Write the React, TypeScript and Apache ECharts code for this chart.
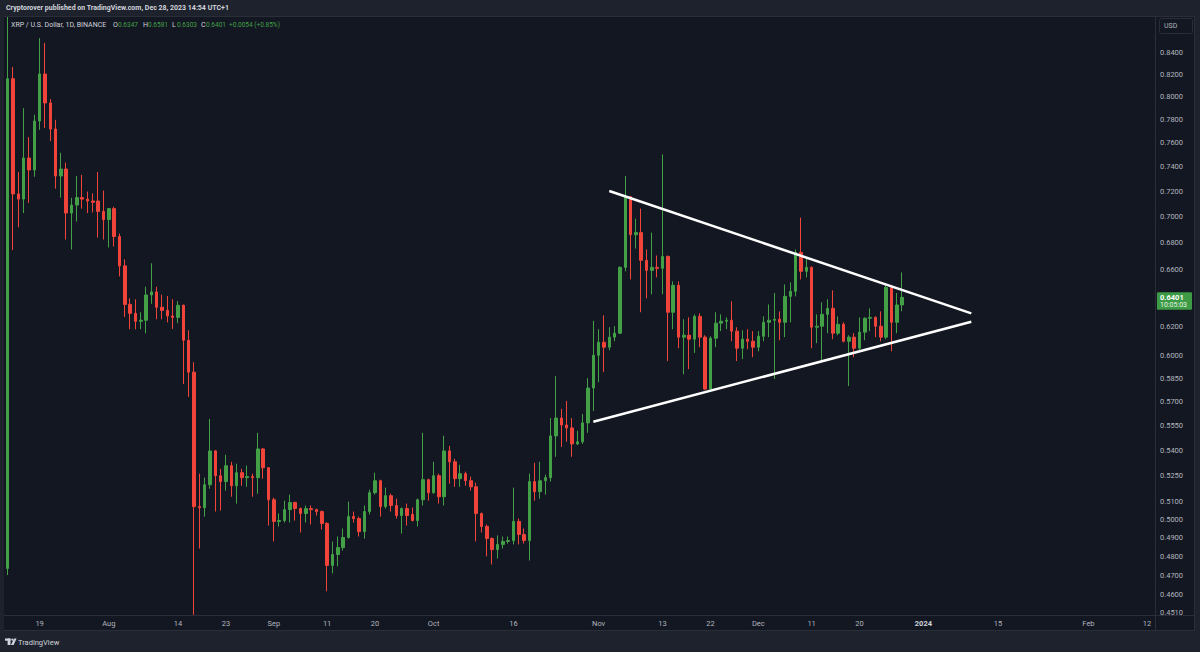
import React, { useEffect, useRef } from "react";
import * as echarts from "echarts";

// ---------- data ----------
const START_DATE = "2023-07-13";
const END_DATE = "2024-02-13";

// daily candles from START_DATE: [open, high, low, close] (extremes read as far as the pane shows them)
const OHLC: [number, number, number, number][] = [
  [0.4735, 0.8743, 0.47, 0.8163], [0.8163, 0.827, 0.6747, 0.7181], [0.7181, 0.7359, 0.692, 0.714],
  [0.714, 0.79, 0.703, 0.7474], [0.7474, 0.765, 0.711, 0.7375], [0.7375, 0.7842, 0.732, 0.7788],
  [0.7788, 0.854, 0.7712, 0.8206], [0.8206, 0.8494, 0.7728, 0.7946], [0.7946, 0.798, 0.7616, 0.7719],
  [0.7719, 0.7798, 0.7224, 0.7326], [0.7326, 0.7518, 0.7152, 0.7383], [0.7383, 0.7435, 0.6826, 0.703],
  [0.703, 0.715, 0.6751, 0.7093], [0.7093, 0.7326, 0.6964, 0.7152], [0.7152, 0.7335, 0.7065, 0.714],
  [0.714, 0.72, 0.703, 0.7125], [0.7125, 0.7185, 0.7035, 0.7115], [0.7125, 0.7359, 0.6841, 0.7043],
  [0.7043, 0.7208, 0.6826, 0.6979], [0.6979, 0.707, 0.6766, 0.7065], [0.7065, 0.708, 0.6774, 0.6849],
  [0.6849, 0.6872, 0.6552, 0.6629], [0.6629, 0.6677, 0.6263, 0.6351], [0.6351, 0.6394, 0.6178, 0.6288],
  [0.6288, 0.6387, 0.6178, 0.6233], [0.6233, 0.6296, 0.6178, 0.624], [0.624, 0.6477, 0.615, 0.6418],
  [0.6418, 0.6648, 0.6355, 0.644], [0.644, 0.6477, 0.6247, 0.6331], [0.6331, 0.642, 0.6247, 0.6309],
  [0.6309, 0.641, 0.6225, 0.627], [0.627, 0.6387, 0.618, 0.626], [0.626, 0.6375, 0.622, 0.6345],
  [0.6345, 0.635, 0.5812, 0.6103], [0.6103, 0.6171, 0.573, 0.589], [0.589, 0.5956, 0.4497, 0.5072],
  [0.5072, 0.5261, 0.4841, 0.5066], [0.5066, 0.5238, 0.5016, 0.5197], [0.5197, 0.5591, 0.5174, 0.5396],
  [0.5396, 0.5402, 0.5044, 0.5249], [0.5249, 0.529, 0.505, 0.5215], [0.5215, 0.5373, 0.5163, 0.5308],
  [0.5308, 0.5331, 0.5128, 0.5191], [0.5191, 0.532, 0.5089, 0.5267], [0.5267, 0.529, 0.5191, 0.5238],
  [0.5238, 0.5308, 0.5185, 0.5244], [0.5244, 0.5261, 0.5128, 0.5238], [0.5238, 0.5506, 0.5145, 0.5408],
  [0.5408, 0.5414, 0.5232, 0.5296], [0.5296, 0.53, 0.4966, 0.5111], [0.5111, 0.5123, 0.4879, 0.4989],
  [0.4989, 0.5033, 0.4961, 0.4994], [0.4994, 0.5106, 0.4983, 0.5055], [0.5055, 0.514, 0.4983, 0.5095],
  [0.5095, 0.51, 0.4994, 0.5061], [0.5061, 0.5067, 0.4928, 0.5033], [0.5033, 0.5078, 0.4983, 0.5061],
  [0.5061, 0.5078, 0.4972, 0.5055], [0.5055, 0.5061, 0.5022, 0.5044], [0.5044, 0.505, 0.4944, 0.4978],
  [0.4978, 0.4985, 0.4616, 0.4751], [0.4751, 0.4879, 0.4709, 0.4809], [0.4809, 0.4906, 0.4746, 0.4846],
  [0.4846, 0.495, 0.483, 0.4901], [0.4901, 0.51, 0.4895, 0.5016], [0.5016, 0.5044, 0.4983, 0.5005],
  [0.5005, 0.5016, 0.4906, 0.4933], [0.4933, 0.5078, 0.4895, 0.5044], [0.5044, 0.5168, 0.5028, 0.5151],
  [0.5151, 0.5267, 0.514, 0.522], [0.522, 0.5226, 0.5016, 0.5072], [0.5072, 0.518, 0.5061, 0.5134],
  [0.5134, 0.5145, 0.5044, 0.5078], [0.5078, 0.5117, 0.5005, 0.5022], [0.5022, 0.5067, 0.4922, 0.5061],
  [0.5061, 0.5089, 0.4966, 0.5022], [0.5028, 0.5067, 0.4989, 0.4994], [0.4994, 0.5117, 0.4961, 0.5111],
  [0.5111, 0.5506, 0.5078, 0.5226], [0.5226, 0.5232, 0.5106, 0.5151], [0.5151, 0.5331, 0.5145, 0.5249],
  [0.5249, 0.5261, 0.5089, 0.5128], [0.5128, 0.5488, 0.5078, 0.5396], [0.5396, 0.5426, 0.5203, 0.5331],
  [0.5331, 0.5349, 0.5185, 0.5232], [0.5232, 0.5314, 0.5185, 0.5261], [0.5261, 0.5273, 0.5191, 0.522],
  [0.522, 0.5244, 0.5163, 0.5185], [0.5185, 0.5209, 0.4879, 0.5033], [0.5033, 0.5039, 0.4928, 0.4961],
  [0.4961, 0.4972, 0.4799, 0.4895], [0.4895, 0.4901, 0.4756, 0.4835], [0.4835, 0.4912, 0.4788, 0.4863],
  [0.4863, 0.4906, 0.4841, 0.4879], [0.4879, 0.4906, 0.4868, 0.4884], [0.4884, 0.518, 0.4863, 0.4989],
  [0.4989, 0.5005, 0.4863, 0.4917], [0.4917, 0.495, 0.4868, 0.4884], [0.4884, 0.5261, 0.4777, 0.5215],
  [0.5215, 0.5325, 0.5106, 0.5157], [0.5157, 0.5331, 0.5117, 0.522], [0.522, 0.5255, 0.514, 0.5238],
  [0.5238, 0.5597, 0.5215, 0.5487], [0.5487, 0.5864, 0.5361, 0.5597], [0.5597, 0.5654, 0.542, 0.5554],
  [0.5554, 0.5704, 0.5451, 0.5536], [0.5536, 0.5597, 0.5361, 0.5438], [0.5438, 0.5518, 0.5432, 0.5451],
  [0.5451, 0.5622, 0.5438, 0.5567], [0.5567, 0.5851, 0.5506, 0.5787], [0.5787, 0.6236, 0.5641, 0.6002],
  [0.6002, 0.6178, 0.5825, 0.6089], [0.6089, 0.6274, 0.589, 0.6056], [0.6056, 0.6192, 0.6035, 0.6124],
  [0.6124, 0.6199, 0.6096, 0.6151], [0.6151, 0.6626, 0.6145, 0.6618], [0.6618, 0.7326, 0.6589, 0.7159],
  [0.7159, 0.7165, 0.653, 0.6863], [0.6863, 0.6986, 0.6758, 0.6879], [0.6879, 0.7065, 0.6296, 0.667],
  [0.667, 0.6751, 0.6394, 0.6596], [0.6596, 0.6879, 0.6423, 0.6618], [0.6618, 0.6706, 0.6545, 0.6611],
  [0.6611, 0.7504, 0.6423, 0.6699], [0.6699, 0.6706, 0.5963, 0.6296], [0.6296, 0.6516, 0.6178, 0.6487],
  [0.6487, 0.6516, 0.6049, 0.6124], [0.6124, 0.6247, 0.5877, 0.6137], [0.6137, 0.626, 0.591, 0.611],
  [0.611, 0.6281, 0.6017, 0.6267], [0.6267, 0.6288, 0.6056, 0.6124], [0.6124, 0.6137, 0.5774, 0.578],
  [0.578, 0.613, 0.5774, 0.6117], [0.6117, 0.6296, 0.6056, 0.622], [0.622, 0.6281, 0.6165, 0.6233],
  [0.6233, 0.626, 0.6178, 0.624], [0.624, 0.6373, 0.6096, 0.6165], [0.6165, 0.6192, 0.5963, 0.6049],
  [0.6049, 0.6171, 0.5976, 0.611], [0.611, 0.6178, 0.6042, 0.6096], [0.6096, 0.6165, 0.5989, 0.6056],
  [0.6056, 0.6165, 0.6028, 0.613], [0.613, 0.6267, 0.6096, 0.6226], [0.6226, 0.6351, 0.6124, 0.624],
  [0.624, 0.6432, 0.5845, 0.6247], [0.6247, 0.6302, 0.6103, 0.6226], [0.6226, 0.6494, 0.6124, 0.6408],
  [0.6408, 0.6509, 0.6226, 0.6444], [0.6444, 0.6751, 0.6408, 0.6729], [0.6729, 0.6994, 0.653, 0.6589],
  [0.6589, 0.6684, 0.6545, 0.6618], [0.6618, 0.6625, 0.6049, 0.6192], [0.6192, 0.6281, 0.6083, 0.6199],
  [0.6199, 0.6366, 0.5963, 0.6281], [0.6281, 0.6387, 0.6151, 0.6323], [0.6323, 0.6451, 0.611, 0.6151],
  [0.6151, 0.6267, 0.6137, 0.6212], [0.6212, 0.6226, 0.6089, 0.6096], [0.6096, 0.6137, 0.58, 0.6124],
  [0.6124, 0.6151, 0.5989, 0.6049], [0.6049, 0.626, 0.6028, 0.6158], [0.6158, 0.626, 0.6103, 0.6254],
  [0.6254, 0.6323, 0.6165, 0.626], [0.626, 0.6267, 0.6124, 0.6199], [0.6199, 0.6302, 0.6096, 0.6124],
  [0.6124, 0.6494, 0.611, 0.6472], [0.6472, 0.6487, 0.6028, 0.6226], [0.6226, 0.6432, 0.6151, 0.6347],
  [0.6347, 0.6581, 0.6303, 0.6401],
];

const PRICE_TICKS = [
  0.84, 0.82, 0.8, 0.78, 0.76, 0.74, 0.72, 0.7, 0.68, 0.66, 0.62, 0.6, 0.585, 0.57, 0.555,
  0.54, 0.525, 0.51, 0.5, 0.49, 0.48, 0.47, 0.46, 0.451,
];
const PRICE_MIN = 0.4496;
const PRICE_MAX = 0.8743;

const DATE_LABELS: Record<string, string> = {
  "2023-07-19": "19", "2023-08-01": "Aug", "2023-08-14": "14", "2023-08-23": "23",
  "2023-09-01": "Sep", "2023-09-11": "11", "2023-09-20": "20", "2023-10-01": "Oct",
  "2023-10-16": "16", "2023-11-01": "Nov", "2023-11-13": "13", "2023-11-22": "22",
  "2023-12-01": "Dec", "2023-12-11": "11", "2023-12-20": "20", "2024-01-01": "2024",
  "2024-01-15": "15", "2024-02-01": "Feb", "2024-02-12": "12",
};

// symmetrical triangle: [start, end] as [date, price]
const UPPER_LINE: [string, number][] = [["2023-11-03", 0.7205], ["2024-01-10", 0.6288]];
const LOWER_LINE: [string, number][] = [["2023-10-31", 0.5574], ["2024-01-10", 0.623]];

const LAST_PRICE = 0.6401;
const COUNTDOWN = "10:05:03";
const HEADER = "Cryptorover published on TradingView.com, Dec 28, 2023 14:54 UTC+1";
const SYMBOL_TITLE = "XRP / U.S. Dollar, 1D, BINANCE";
const LEGEND_VALUES: [string, string][] = [
  ["O", "0.6347"], ["H", "0.6581"], ["L", "0.6303"], ["C", "0.6401"],
];
const CHANGE_TEXT = "+0.0054 (+0.85%)";

// ---------- styles ----------
const UP = "#43a047";
const DOWN = "#f0443a";
const PANE = "#131722";
const FRAME = "#1e222d";
const BORDER = "#2a2e39";
const TEXT = "#b2b5be";
const FONT = "Roboto, 'Liberation Sans', sans-serif";

function buildDates(start: string, end: string): string[] {
  const out: string[] = [];
  const d = new Date(start + "T00:00:00Z");
  const e = new Date(end + "T00:00:00Z");
  while (d <= e) {
    out.push(d.toISOString().slice(0, 10));
    d.setUTCDate(d.getUTCDate() + 1);
  }
  return out;
}

export default function App() {
  const ref = useRef<HTMLDivElement>(null);

  useEffect(() => {
    if (!ref.current) return;
    const chart = echarts.init(ref.current, null, { renderer: "svg" });
    const dates = buildDates(START_DATE, END_DATE);
    const candles = OHLC.map(([o, h, l, c]) => [Math.log(o), Math.log(c), Math.log(l), Math.log(h)]);
    const toLine = (pts: [string, number][]) => [
      { coord: [pts[0][0], Math.log(pts[0][1])] },
      { coord: [pts[1][0], Math.log(pts[1][1])] },
    ];

    const legendEls: any[] = [
      { type: "text", x: 11, y: 25, style: { text: SYMBOL_TITLE, fill: "#d1d4dc", font: `7px ${FONT}`, textVerticalAlign: "middle" } },
    ];
    const legendX = [113, 143, 172, 201];
    LEGEND_VALUES.forEach(([k, v], i) => {
      legendEls.push({ type: "text", x: legendX[i], y: 25, style: { text: k, fill: "#d1d4dc", font: `7px ${FONT}`, textVerticalAlign: "middle" } });
      legendEls.push({ type: "text", x: legendX[i] + 5, y: 25, style: { text: v, fill: UP, font: `6.5px ${FONT}`, textVerticalAlign: "middle" } });
    });
    legendEls.push({ type: "text", x: 229, y: 25, style: { text: CHANGE_TEXT, fill: UP, font: `6.5px ${FONT}`, textVerticalAlign: "middle" } });

    chart.setOption({
      animation: false,
      backgroundColor: PANE,
      grid: { left: 5, right: 45, top: 17, bottom: 37, containLabel: false },
      xAxis: {
        type: "category",
        data: dates,
        boundaryGap: true,
        axisLine: { show: false },
        axisTick: { show: false },
        splitLine: { show: false },
        axisLabel: {
          interval: (_i: number, v: string) => v in DATE_LABELS,
          formatter: (v: string) => (DATE_LABELS[v] === "2024" ? "{b|2024}" : DATE_LABELS[v] || ""),
          color: TEXT,
          fontSize: 7.5,
          fontFamily: FONT,
          margin: 4,
          rich: { b: { color: "#d1d4dc", fontSize: 7.5, fontWeight: "bold", fontFamily: FONT } },
        },
      },
      yAxis: {
        type: "value",
        position: "right",
        min: Math.log(PRICE_MIN),
        max: Math.log(PRICE_MAX),
        axisLine: { show: false },
        axisTick: { show: false },
        splitLine: { show: false },
        axisLabel: {
          customValues: PRICE_TICKS.map((p) => Math.log(p)),
          formatter: (v: number) => Math.exp(v).toFixed(4),
          color: TEXT,
          fontSize: 7.5,
          fontFamily: FONT,
          margin: 5,
          showMinLabel: true,
          showMaxLabel: true,
        },
      },
      series: [
        {
          type: "candlestick",
          data: candles,
          barWidth: 3,
          clip: true,
          itemStyle: { color: UP, color0: DOWN, borderColor: UP, borderColor0: DOWN, borderWidth: 1 },
          markLine: {
            silent: true,
            symbol: ["none", "none"],
            label: { show: false },
            lineStyle: { color: "#ffffff", width: 2.5, type: "solid" },
            emphasis: { disabled: true },
            data: [toLine(UPPER_LINE), toLine(LOWER_LINE)],
          },
        },
      ],
    });

    const py = chart.convertToPixel({ yAxisIndex: 0 }, Math.log(LAST_PRICE)) as number;

    chart.setOption({
      graphic: [
        { type: "rect", silent: true, shape: { x: 0, y: 0, width: 1200, height: 16 }, style: { fill: FRAME } },
        { type: "rect", silent: true, shape: { x: 0, y: 631, width: 1200, height: 21 }, style: { fill: FRAME } },
        { type: "rect", silent: true, shape: { x: 0, y: 16, width: 4, height: 615 }, style: { fill: FRAME } },
        { type: "rect", silent: true, shape: { x: 1195, y: 16, width: 5, height: 615 }, style: { fill: FRAME } },
        { type: "line", silent: true, shape: { x1: 4, y1: 16.5, x2: 1195, y2: 16.5 }, style: { stroke: BORDER, lineWidth: 1 } },
        { type: "line", silent: true, shape: { x1: 4, y1: 615.5, x2: 1195, y2: 615.5 }, style: { stroke: BORDER, lineWidth: 1 } },
        { type: "line", silent: true, shape: { x1: 4, y1: 630.5, x2: 1195, y2: 630.5 }, style: { stroke: BORDER, lineWidth: 1 } },
        { type: "line", silent: true, shape: { x1: 1155.5, y1: 16, x2: 1155.5, y2: 631 }, style: { stroke: BORDER, lineWidth: 1 } },
        { type: "line", silent: true, shape: { x1: 1194.5, y1: 16, x2: 1194.5, y2: 631 }, style: { stroke: BORDER, lineWidth: 1 } },
        { type: "text", x: 6, y: 8, style: { text: HEADER, fill: "#d1d4dc", font: `bold 7px ${FONT}`, textVerticalAlign: "middle" } },
        ...legendEls,
        { type: "rect", silent: true, shape: { x: 1159.5, y: 18.5, width: 33, height: 15, r: 2 }, style: { fill: PANE, stroke: BORDER, lineWidth: 1 } },
        { type: "text", x: 1164, y: 26, style: { text: "USD", fill: TEXT, font: `7px ${FONT}`, textVerticalAlign: "middle" } },
        { type: "rect", shape: { x: 1157, y: py - 5, width: 35, height: 17.5, r: 1 }, style: { fill: "#3d9b45" } },
        { type: "text", x: 1160, y: py, style: { text: LAST_PRICE.toFixed(4), fill: "#ffffff", font: `bold 7.5px ${FONT}`, textVerticalAlign: "middle" } },
        { type: "text", x: 1160, y: py + 8, style: { text: COUNTDOWN, fill: "#e8f5e9", font: `7px ${FONT}`, textVerticalAlign: "middle" } },
        { type: "rect", silent: true, shape: { x: 5, y: 638.5, width: 5.5, height: 2.2 }, style: { fill: "#d1d4dc" } },
        { type: "rect", silent: true, shape: { x: 7.6, y: 638.5, width: 2.9, height: 6.5 }, style: { fill: "#d1d4dc" } },
        { type: "circle", silent: true, shape: { cx: 12.3, cy: 639.6, r: 1.1 }, style: { fill: "#d1d4dc" } },
        { type: "polygon", silent: true, shape: { points: [[14, 638.5], [16.6, 638.5], [13.6, 645], [11, 645]] }, style: { fill: "#d1d4dc" } },
        { type: "text", x: 18, y: 642, style: { text: "TradingView", fill: "#d1d4dc", font: `7.5px ${FONT}`, textVerticalAlign: "middle" } },
      ],
    });

    return () => chart.dispose();
  }, []);

  return (
    <div
      ref={ref}
      style={{ position: "fixed", left: 0, top: 0, width: 1200, height: 652 }}
    />
  );
}
